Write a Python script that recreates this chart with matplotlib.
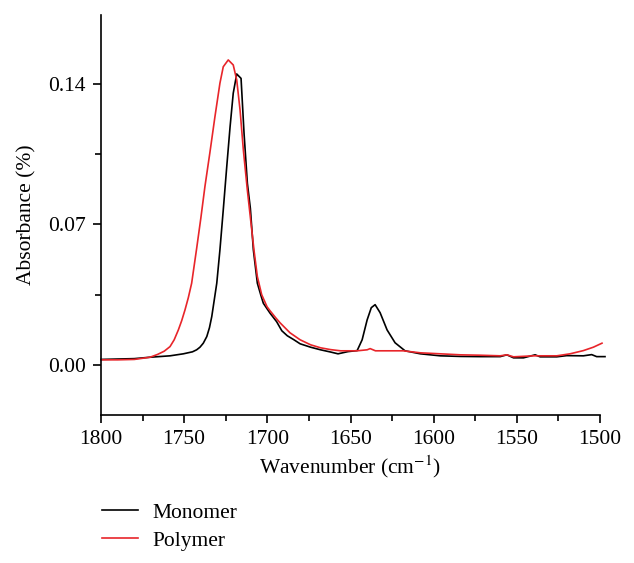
import matplotlib
matplotlib.use("Agg")
import matplotlib.pyplot as plt
from matplotlib.ticker import MultipleLocator, FixedLocator, FixedFormatter

plt.rcParams['font.family'] = ['Liberation Serif', 'DejaVu Serif']
plt.rcParams['mathtext.fontset'] = 'stix'

# Monomer spectrum (wavenumber, absorbance)
mono_wn = [1800, 1790, 1780, 1770.5, 1758.5, 1750.5, 1745, 1742.5, 1740.5, 1738.5, 1736.4,
           1734.8, 1733.4, 1730.4, 1728.5, 1726.5, 1724.4, 1722.4, 1720.5, 1718.4, 1715.8,
           1714, 1712, 1710.2, 1708.4, 1706, 1704, 1702.4, 1698.4, 1694.4, 1691.3, 1688,
           1684, 1680.3, 1674, 1668, 1662, 1657.5, 1651.5, 1646, 1643, 1640, 1637.5,
           1635.2, 1632.2, 1628, 1623.2, 1617.2, 1608, 1596, 1584, 1572, 1560, 1556,
           1552, 1546, 1539, 1536, 1526, 1520, 1510, 1505, 1502, 1497]
mono_ab = [0.0027, 0.0029, 0.0031, 0.0038, 0.0045, 0.0055, 0.0065, 0.0075, 0.0088, 0.0108, 0.0141,
           0.0185, 0.0241, 0.0407, 0.0573, 0.0772, 0.0988, 0.1187, 0.1354, 0.145, 0.1428,
           0.1154, 0.0905, 0.078, 0.0573, 0.0407, 0.035, 0.0307, 0.0258, 0.0215, 0.017, 0.0145,
           0.0125, 0.0105, 0.0088, 0.0075, 0.0064, 0.0055, 0.0066, 0.0071, 0.0125, 0.0224, 0.0285,
           0.030, 0.026, 0.0174, 0.011, 0.007, 0.0055, 0.0045, 0.0042, 0.0041, 0.0041, 0.005,
           0.0035, 0.0035, 0.005, 0.004, 0.004, 0.0046, 0.0045, 0.0051, 0.0041, 0.0041]

# Polymer spectrum (wavenumber, absorbance)
poly_wn = [1800, 1790, 1780, 1770.5, 1766, 1762, 1758.5, 1756, 1753.5, 1751.5, 1749.5,
           1747.5, 1745.5, 1742.5, 1740, 1737.5, 1734.5, 1731.5, 1728.5, 1726.5, 1723.5,
           1720.5, 1718.4, 1716.4, 1714.4, 1712, 1710, 1708, 1706, 1703.4, 1700.2, 1698.4,
           1695, 1692.4, 1686.4, 1680.3, 1674, 1668, 1662, 1656, 1646, 1640, 1638.2, 1635,
           1628, 1618.4, 1608, 1596, 1584, 1572, 1560, 1556, 1552, 1540, 1526, 1518, 1510,
           1504, 1498.8]
poly_ab = [0.0025, 0.0025, 0.0027, 0.0038, 0.0052, 0.0068, 0.0091, 0.0125, 0.0174, 0.022, 0.0274,
           0.0335, 0.0407, 0.058, 0.073, 0.089, 0.106, 0.1237, 0.1404, 0.1486, 0.152,
           0.1495, 0.142, 0.127, 0.107, 0.087, 0.072, 0.057, 0.044, 0.035, 0.029, 0.027,
           0.0235, 0.021, 0.016, 0.0125, 0.010, 0.0085, 0.0076, 0.007, 0.007, 0.0075, 0.0081, 0.007,
           0.007, 0.007, 0.006, 0.0055, 0.005, 0.0048, 0.0045, 0.005, 0.004, 0.0045, 0.0045,
           0.0055, 0.0071, 0.0088, 0.0108]

y_ticks = [0.0, 0.07, 0.14]
y_tick_labels = ['0.00', '0.07', '0.14']
x_ticks = [1800, 1750, 1700, 1650, 1600, 1550, 1500]

FS = 15.5

fig = plt.figure(figsize=(6.34, 5.63), dpi=100)
ax = fig.add_axes([101/634, 1-415/563, 499/634, 400/563])

ax.plot(mono_wn, mono_ab, color='black', lw=1.2, label='Monomer', clip_on=False)
ax.plot(poly_wn, poly_ab, color='#e8252a', lw=1.2, label='Polymer', clip_on=False)

ax.set_xlim(1800, 1500)
ax.set_ylim(-0.025, 0.1744)
ax.xaxis.set_major_locator(FixedLocator(x_ticks))
ax.xaxis.set_minor_locator(MultipleLocator(25))
ax.yaxis.set_major_locator(FixedLocator(y_ticks))
ax.yaxis.set_major_formatter(FixedFormatter(y_tick_labels))
ax.yaxis.set_minor_locator(FixedLocator([0.035, 0.105]))

for s in ['top', 'right']:
    ax.spines[s].set_visible(False)
for s in ['left', 'bottom']:
    ax.spines[s].set_linewidth(1.2)

ax.tick_params(which='major', direction='out', length=6, width=1.2, labelsize=FS, pad=5)
ax.tick_params(which='minor', direction='out', length=4, width=1.2)

ax.set_xlabel(r'Wavenumber (cm$^{-1}$)', fontsize=FS, labelpad=3)
ax.set_ylabel('Absorbance (%)', fontsize=FS, labelpad=8)

fig.legend(loc='upper left', bbox_to_anchor=(91/634, 1-492/563), frameon=False,
           fontsize=FS, handlelength=1.67, handletextpad=0.7, labelspacing=0.36,
           borderpad=0)

fig.savefig('out.png', dpi=100)
